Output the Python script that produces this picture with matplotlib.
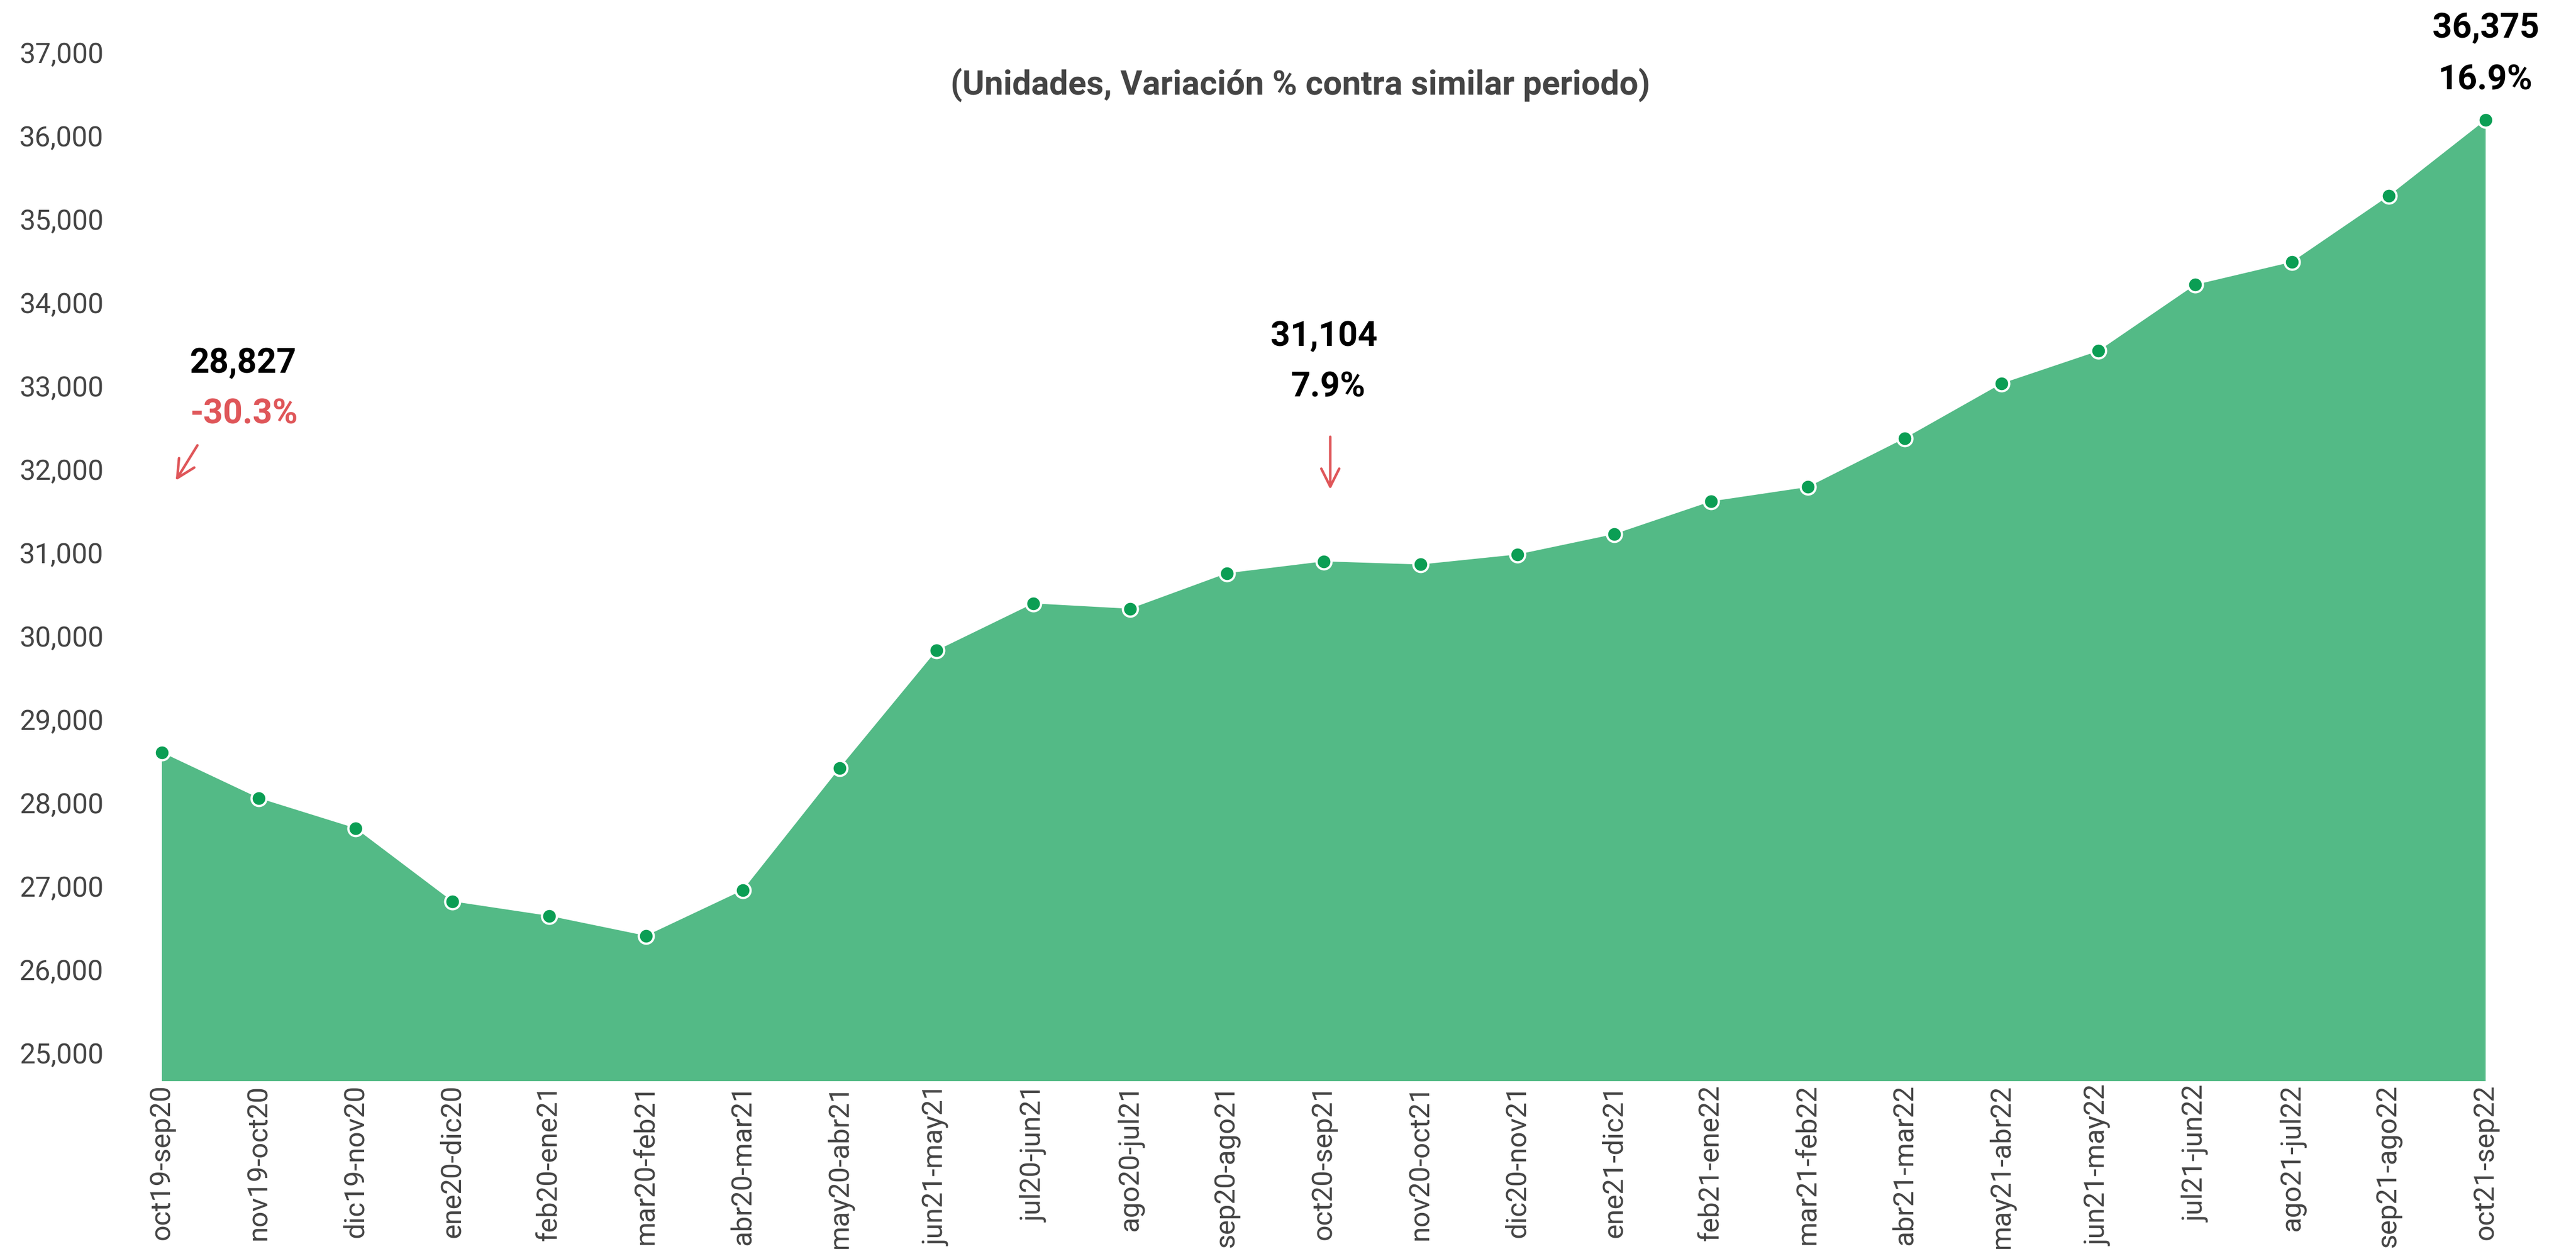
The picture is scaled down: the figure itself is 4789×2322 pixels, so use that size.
import numpy as np
import matplotlib
matplotlib.use('Agg')
import matplotlib.pyplot as plt

#===================== data ============================================
periodos = ['oct19-sep20', 'nov19-oct20', 'dic19-nov20', 'ene20-dic20',
            'feb20-ene21', 'mar20-feb21', 'abr20-mar21', 'may20-abr21',
            'jun21-may21', 'jul20-jun21', 'ago20-jul21', 'sep20-ago21',
            'oct20-sep21', 'nov20-oct21', 'dic20-nov21', 'ene21-dic21',
            'feb21-ene22', 'mar21-feb22', 'abr21-mar22', 'may21-abr22',
            'jun21-may22', 'jul21-jun22', 'ago21-jul22', 'sep21-ago22',
            'oct21-sep22']

unidades = [28604, 28056, 27694, 26817, 26643, 26404, 26952, 28417,
            29826, 30391, 30327, 30753, 30895, 30858, 30978, 31222,
            31615, 31787, 32372, 33028, 33419, 34213, 34487, 35280,
            36191]

yticks = list(range(25000, 37001, 1000))

titulo = '(Unidades, Variación % contra similar periodo)'

# annotations: valor / variacion
notas_valor = ['28,827', '31,104', '36,375']
notas_var = ['-30.3%', '7.9%', '16.9%']

#===================== styles ==========================================
area_col = '#53BA86'
mark_col = '#0B9E54'
red = '#DF5659'
grey = '#444444'

plt.rcParams['font.family'] = ['Roboto', 'DejaVu Sans']

W, H = 4789, 2322
fig = plt.figure(figsize=(W / 100, H / 100), dpi=100)
ax = fig.add_axes([301 / W, 1 - 2010 / H, 4320 / W, (2010 - 51) / H])

x = np.arange(len(unidades))
ax.fill_between(x, unidades, 0, color=area_col, lw=0)
ax.plot(x, unidades, ls='none', marker='o', markersize=20,
        markerfacecolor=mark_col, markeredgecolor='white', markeredgewidth=3,
        clip_on=False, zorder=3)

ax.set_xlim(0, len(unidades) - 1)
ax.set_ylim(24660, 37300)

ax.set_yticks(yticks)
ax.set_yticklabels(['{:,}'.format(v) for v in yticks])
ax.set_xticks(x)
ax.set_xticklabels(periodos, rotation=90)

ax.tick_params(axis='y', length=0, pad=78, labelsize=37.5, labelcolor=grey)
ax.tick_params(axis='x', length=0, pad=4.5, labelsize=37.5, labelcolor=grey)
for s in ax.spines.values():
    s.set_visible(False)

#===================== texts ===========================================
fig.text(2417 / W, 1 - 176 / H, titulo, ha='center', va='baseline',
         fontsize=45, fontweight='bold', color=grey)

fs = 46
arrow = dict(arrowstyle='->,head_length=0.4,head_width=0.2',
             color=red, lw=3.4, mutation_scale=60, shrinkA=0, shrinkB=0)

# first point
ax.text(0.289, 33158, notas_valor[0], ha='left', va='baseline',
        fontsize=fs, fontweight='bold', color='black')
ax.text(0.289, 32545, notas_var[0], ha='left', va='baseline',
        fontsize=fs, fontweight='bold', color=red)
ax.annotate('', xy=(0.143, 31865), xytext=(0.367, 32287), arrowprops=arrow)

# oct20-sep21
ax.text(12.0, 33481, notas_valor[1], ha='center', va='baseline',
        fontsize=fs, fontweight='bold', color='black')
ax.text(12.04, 32868, notas_var[1], ha='center', va='baseline',
        fontsize=fs, fontweight='bold', color='black')
ax.annotate('', xy=(12.067, 31758), xytext=(12.067, 32390), arrowprops=arrow)

# last point
ax.text(24, 37178, notas_valor[2], ha='center', va='baseline',
        fontsize=fs, fontweight='bold', color='black', clip_on=False)
ax.text(24, 36552, notas_var[2], ha='center', va='baseline',
        fontsize=fs, fontweight='bold', color='black', clip_on=False)

plt.savefig('out.png', dpi=100)
